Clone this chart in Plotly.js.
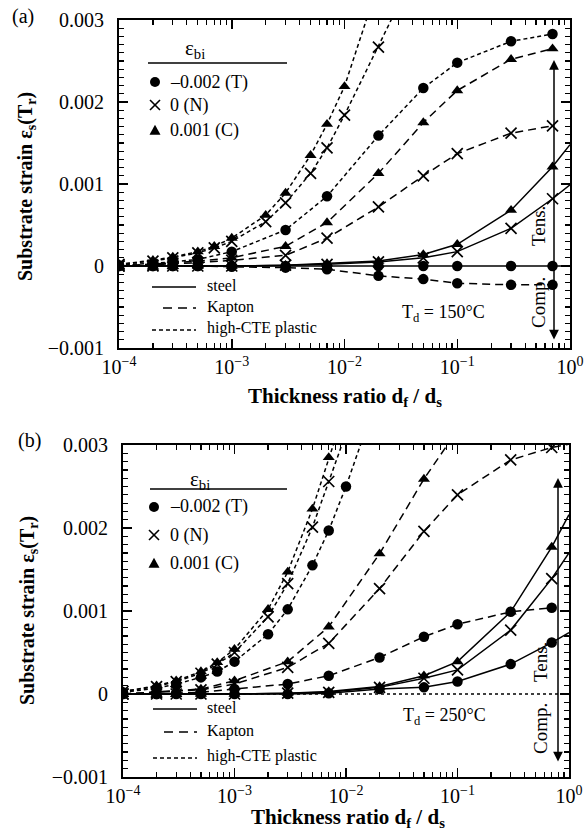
<!DOCTYPE html>
<html><head><meta charset="utf-8">
<script src="https://cdn.plot.ly/plotly-3.0.1.min.js"></script>
<style>body{margin:0;background:#fff}#chart{width:585px;height:835px}</style>
</head><body><div id="chart"></div>
<script>
// ---------- data ----------
const xGrid    = [1e-4,2e-4,3e-4,5e-4,1e-3,3e-3,7e-3,2e-2,5e-2,0.1,0.3,0.7];
const xGridExt = [1e-4,2e-4,3e-4,5e-4,1e-3,3e-3,7e-3,2e-2,5e-2,0.1,0.3,0.7,1.0];
const xHiFine  = [1e-4,2e-4,3e-4,5e-4,7e-4,1e-3,2e-3,3e-3,5e-3,7e-3,1e-2,2e-2,5e-2];

// panel (a)  Td = 150 C
const a_steel_T  = [0,0,0,0,0,0,0,0,0,0,0,0,0];
const a_steel_N  = [0,0,0,0,0,0.00001,0.00002,0.00005,0.0001,0.000175,0.00046,0.00082,0.00099];
const a_steel_C  = [0,0,0,0,0,0.00001,0.00003,0.00006,0.00014,0.000265,0.00068,0.00121,0.00148];
const a_kapton_T = [0,0,0,0,-0.00001,-0.00002,-0.00004,-0.00012,-0.00016,-0.00021,-0.00023,-0.00023];
const a_kapton_N = [0,0.00001,0.00003,0.00004,0.00007,0.00013,0.00034,0.00072,0.0011,0.00137,0.00162,0.00171];
const a_kapton_C = [0,0.00002,0.00004,0.00006,0.0001,0.00024,0.00053,0.00113,0.00175,0.00214,0.00252,0.00265];
const a_hicte_T  = [0.00001,0.00003,0.00005,0.00008,0.000175,0.00044,0.00085,0.00159,0.00217,0.00248,0.00274,0.00283];
const a_hicte_N  = [0.00002,0.00006,0.0001,0.00016,0.00022,0.0003,0.00054,0.00077,0.00113,0.00144,0.00184,0.00267,0.0038];
const a_hicte_C  = [0.00002,0.00007,0.00011,0.000175,0.00024,0.00034,0.00062,0.00089,0.00135,0.00173,0.00219,0.00345];

// panel (b)  Td = 250 C
const xKapB_C    = [1e-4,2e-4,3e-4,5e-4,1e-3,3e-3,7e-3,2e-2,5e-2,0.1];
const b_steel_T  = [0,0,0,0,0,0,0.00001,0.00006,0.00008,0.00015,0.00036,0.00062,0.00074];
const b_steel_N  = [0,0,0,0,0,0.00001,0.00002,0.00008,0.00019,0.00029,0.00077,0.00139,0.0017];
const b_steel_C  = [0,0,0,0,0,0.00001,0.00003,0.00009,0.00022,0.00039,0.00099,0.00177,0.00216];
const b_kapton_T = [0,0,0.00001,0.00002,0.00006,0.00012,0.00022,0.00044,0.00069,0.00084,0.00099,0.00104];
const b_kapton_N = [0,0.00002,0.00003,0.00005,0.00012,0.00032,0.00061,0.00127,0.00196,0.0024,0.00282,0.00297,0.00301];
const b_kapton_C = [0,0.00002,0.00004,0.00006,0.00016,0.00039,0.00081,0.00169,0.00259,0.00318];
const b_hicte_T  = [0.00002,0.00007,0.00012,0.0002,0.00027,0.00039,0.00072,0.00102,0.00155,0.00197,0.0025,0.00366];
const b_hicte_N  = [0.00003,0.00009,0.00015,0.00025,0.00036,0.0005,0.00093,0.00133,0.00201,0.00256,0.00314];
const b_hicte_C  = [0.00003,0.0001,0.00016,0.00027,0.00038,0.00054,0.00102,0.00147,0.00223,0.00285,0.00347];

// tick labels
const xTickVals = [1e-4,1e-3,1e-2,1e-1,1];
const xTickText = ['10<sup>−4</sup>','10<sup>−3</sup>','10<sup>−2</sup>','10<sup>−1</sup>','10<sup>0</sup>'];
const yTickVals = [-0.001,0,0.001,0.002,0.003];
const yTickText = ['−0.001','0','0.001','0.002','0.003'];
const legendLabels = ['–0.002 (T)','0 (N)','0.001 (C)'];
const materialLabels = ['steel','Kapton','high-CTE plastic'];

// ---------- helpers ----------
const W = 585, H = 835;
const SERIF = 'Liberation Serif, Times New Roman, serif';
const INK = '#000';
const DASH = {steel:'solid', kapton:'8px,5px', hicte:'4px,3px'};
const SYM = {T:'circle', N:'x-thin', C:'triangle-up'};

function mk(x, y, panel, kind, mat){
  const sym = SYM[kind];
  const n = Math.min(x.length, y.length);
  const xs = x.slice(0,n), ys = y.slice(0,n);
  const base = sym === 'x-thin' ? 11 : 10.5;
  return {
    x: xs, y: ys, type:'scatter', mode:'lines+markers',
    xaxis: panel==='a'?'x':'x2', yaxis: panel==='a'?'y':'y2',
    line:{color:INK, width:1.5, dash:DASH[mat]},
    marker:{symbol:sym, size: xs.map(v => v >= 1 ? 0 : base), color:INK, opacity:1,
            line:{color:INK, width: sym==='x-thin'?1.7:0}},
    showlegend:false, hoverinfo:'skip', cliponaxis:true
  };
}
const px = v => v / W, py = v => 1 - v / H;
function txt(x, y, text, size, opts){
  return Object.assign({xref:'paper', yref:'paper', x:px(x), y:py(y), text, showarrow:false,
    font:{family:SERIF, size, color:INK}, xanchor:'center', yanchor:'middle'}, opts||{});
}
function seg(x0,y0,x1,y1,dash,w){
  return {type:'line', xref:'paper', yref:'paper', x0:px(x0), y0:py(y0), x1:px(x1), y1:py(y1),
          line:{color:INK, width:w||1.5, dash:dash||'solid'}};
}
function circ(cx,cy,r){
  return {type:'circle', xref:'paper', yref:'paper', x0:px(cx-r), x1:px(cx+r), y0:py(cy+r), y1:py(cy-r),
          fillcolor:INK, line:{color:INK, width:0}};
}
function tri(cx,cy,s){
  const p = `M ${px(cx-s)} ${py(cy+s*0.85)} L ${px(cx+s)} ${py(cy+s*0.85)} L ${px(cx)} ${py(cy-s*0.95)} Z`;
  return {type:'path', xref:'paper', yref:'paper', path:p, fillcolor:INK, line:{color:INK, width:0}};
}
function cross(cx,cy,s){
  return [seg(cx-s,cy-s,cx+s,cy+s,'solid',1.6), seg(cx-s,cy+s,cx+s,cy-s,'solid',1.6)];
}
function legendBlock(cfg){
  const sh = [], an = [];
  an.push(txt(cfg.epsX, cfg.epsY, 'ε<sub>bi</sub>', 21));
  sh.push(seg(cfg.lineX0, cfg.lineY, cfg.lineX1, cfg.lineY, 'solid', 1.5));
  const [y1,y2,y3] = cfg.rows;
  sh.push(circ(cfg.symX, y1, 5));
  sh.push(...cross(cfg.symX, y2, 5));
  sh.push(tri(cfg.symX, y3, 5.5));
  [y1,y2,y3].forEach((y,i)=>an.push(txt(cfg.textX, y, legendLabels[i], 18, {xanchor:'left'})));
  const [m1,m2,m3] = cfg.mrows;
  sh.push(seg(cfg.mX0, m1+2, cfg.mX1, m1+2, 'solid', 1.5));
  sh.push(seg(cfg.mX0+11, m2+1, cfg.mX1, m2+1, '9px,6px', 1.5));
  sh.push(seg(cfg.mX0, m3+2, cfg.mX1, m3+2, '4px,3px', 1.5));
  [m1,m2,m3].forEach((y,i)=>an.push(txt(cfg.mTextX, y, materialLabels[i], 16, {xanchor:'left'})));
  return {sh, an};
}

// ---------- traces ----------
const traces = [
  mk(xGridExt, a_steel_T, 'a','T','steel'),
  mk(xGridExt, a_steel_N, 'a','N','steel'),
  mk(xGridExt, a_steel_C, 'a','C','steel'),
  mk(xGrid, a_kapton_T, 'a','T','kapton'),
  mk(xGrid, a_kapton_N, 'a','N','kapton'),
  mk(xGrid, a_kapton_C, 'a','C','kapton'),
  mk(xGrid, a_hicte_T, 'a','T','hicte'),
  mk(xHiFine, a_hicte_N, 'a','N','hicte'),
  mk(xHiFine, a_hicte_C, 'a','C','hicte'),

  mk(xGridExt, b_steel_T, 'b','T','steel'),
  mk(xGridExt, b_steel_N, 'b','N','steel'),
  mk(xGridExt, b_steel_C, 'b','C','steel'),
  mk(xGrid, b_kapton_T, 'b','T','kapton'),
  mk(xGridExt, b_kapton_N, 'b','N','kapton'),
  mk(xKapB_C, b_kapton_C, 'b','C','kapton'),
  mk(xHiFine, b_hicte_T, 'b','T','hicte'),
  mk(xHiFine, b_hicte_N, 'b','N','hicte'),
  mk(xHiFine, b_hicte_C, 'b','C','hicte')
];

// ---------- axes ----------
const minorX = [];
for (let e=-4; e<0; e++) for (let m=2; m<=9; m++) minorX.push(m*Math.pow(10,e));
function xAxis(domain){
  return {domain, type:'log', range:[-4,0], tickmode:'array', tickvals:xTickVals, ticktext:xTickText,
    ticks:'inside', ticklen:9, tickwidth:1.5, tickcolor:INK, linecolor:INK, linewidth:2, mirror:'ticks',
    showgrid:false, zeroline:false, tickfont:{family:SERIF, size:20, color:INK}, ticklabelstandoff:0,
    minor:{tickmode:'array', tickvals:minorX, ticks:'inside', ticklen:5, tickwidth:1.2, tickcolor:INK, showgrid:false}};
}
function yAxis(domain, anchor){
  return {domain, anchor, range:[-0.001,0.003], tickmode:'array', tickvals:yTickVals, ticktext:yTickText,
    ticks:'inside', ticklen:9, tickwidth:1.5, tickcolor:INK, linecolor:INK, linewidth:2, mirror:'ticks',
    showgrid:false, zeroline:false, tickfont:{family:SERIF, size:20, color:INK}, ticklabelstandoff:9,
    minor:{dtick:0.0001, tick0:0, ticks:'inside', ticklen:5, tickwidth:1.2, tickcolor:INK, showgrid:false}};
}

// ---------- decorations ----------
const la = legendBlock({epsX:195, epsY:49, lineX0:148, lineX1:287, lineY:63, rows:[82,105,130], symX:155, textX:168,
                        mrows:[285,307,328], mX0:152, mX1:196, mTextX:205});
const lb = legendBlock({epsX:200, epsY:480, lineX0:150, lineX1:287, lineY:489, rows:[507,535,563], symX:154, textX:168,
                        mrows:[707,731,756], mX0:153, mX1:197, mTextX:205});

const shapes = [
  ...la.sh, ...lb.sh,
  {type:'line', xref:'x2 domain', yref:'y2', x0:0, x1:1, y0:0, y1:0, line:{color:INK, width:1.6, dash:'dot'}}
];

function dblArrow(x, yTop, yBot){
  return {xref:'paper', yref:'paper', x:px(x), y:py(yTop), axref:'paper', ayref:'paper', ax:px(x), ay:py(yBot),
    text:'', showarrow:true, arrowhead:2, startarrowhead:2, arrowside:'end+start', arrowsize:1.3, startarrowsize:1.3,
    arrowwidth:1.5, arrowcolor:INK};
}

const annotations = [
  ...la.an, ...lb.an,
  txt(23, 17, '(a)', 20),
  txt(29, 440, '(b)', 20),
  txt(26, 187, '<b>Substrate strain ε<sub>s</sub>(T<sub>r</sub>)</b>', 20, {textangle:-90}),
  txt(28, 611, '<b>Substrate strain ε<sub>s</sub>(T<sub>r</sub>)</b>', 20, {textangle:-90}),
  txt(345, 397, '<b>Thickness ratio d<sub>f</sub> / d<sub>s</sub></b>', 21),
  txt(348, 818, '<b>Thickness ratio d<sub>f</sub> / d<sub>s</sub></b>', 21),
  txt(443, 313, 'T<sub>d</sub> = 150°C', 18),
  txt(444, 716, 'T<sub>d</sub> = 250°C', 18),
  txt(538, 226, 'Tens.', 19, {textangle:-90}),
  txt(538, 303, 'Comp.', 19, {textangle:-90}),
  txt(540, 662, 'Tens.', 19, {textangle:-90}),
  txt(540, 729, 'Comp.', 19, {textangle:-90}),
  dblArrow(554, 60, 341),
  dblArrow(558, 478, 763)
];

const layout = {
  width:W, height:H, margin:{l:0, r:0, t:0, b:0},
  paper_bgcolor:'#fff', plot_bgcolor:'rgba(0,0,0,0)', showlegend:false,
  xaxis: Object.assign(xAxis([119/W, 570/W]), {anchor:'y'}),
  yaxis: yAxis([1-348/H, 1-20/H], 'x'),
  xaxis2: Object.assign(xAxis([123/W, 569/W]), {anchor:'y2'}),
  yaxis2: yAxis([1-777/H, 1-445/H], 'x2'),
  shapes, annotations
};

Plotly.newPlot('chart', traces, layout, {staticPlot:true, displayModeBar:false});
</script>
</body></html>
